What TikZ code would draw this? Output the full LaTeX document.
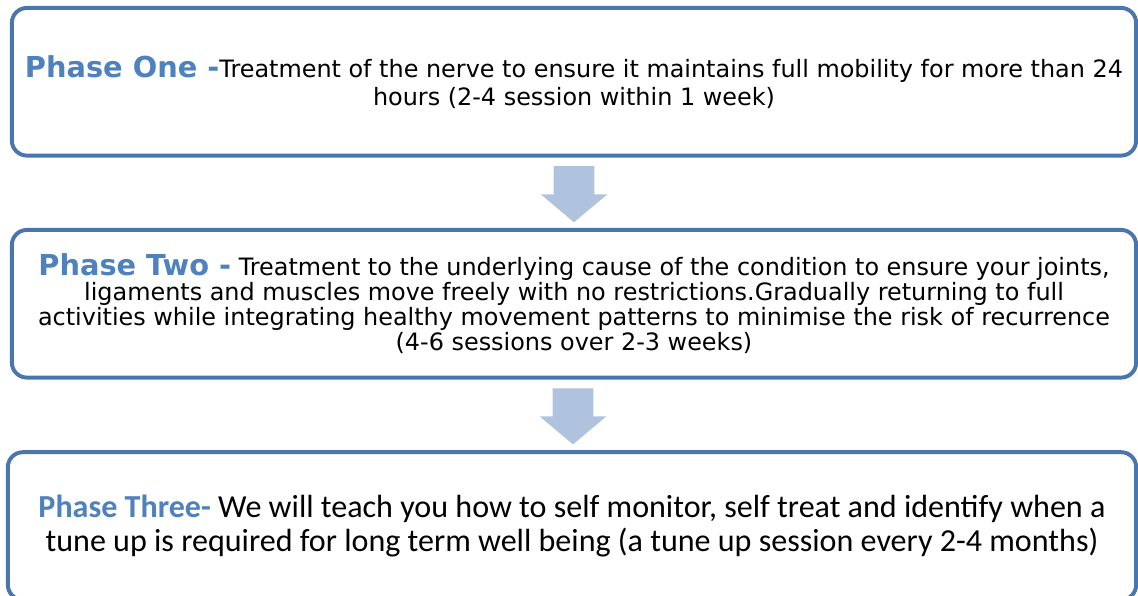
\documentclass[tikz,border=0pt]{standalone}
\usepackage{fontspec}
\setmainfont{DejaVu Sans}
\newfontfamily\calibrifont{Carlito}
\usepackage{xcolor}
\usepackage{tikz}
\usetikzlibrary{shapes.arrows, positioning, calc}
\definecolor{boxblue}{HTML}{4A76AD}
\definecolor{headblue}{HTML}{4F81BD}
\definecolor{arrowblue}{HTML}{B0C3DE}
\tikzstyle{phase} = [rectangle, rounded corners=0.375cm, line width=2.8pt, draw=boxblue, fill=white, minimum width=28.1cm, minimum height=3.69cm, text centered, align=center, inner sep=0pt]
\tikzstyle{downarrow} = [single arrow, shape border rotate=270, fill=arrowblue, text width=1cm, minimum height=1.4cm, single arrow head extend=0.325cm, single arrow tip angle=100, inner sep=0pt, yshift=5pt]
\newcommand{\phasehead}[1]{{\fontsize{20.5}{20}\selectfont\bfseries\color{headblue}#1}}
\newcommand{\phaseheadc}[1]{{\bfseries\color{headblue}#1}}

\begin{document}
\begin{tikzpicture}[x=0.025cm, y=-0.025cm]
        \useasboundingbox (0,0) rectangle (1138,595);
        % Phases
        \node (one) [phase, font=\fontsize{17}{19.9}\selectfont] at (574,81.75) {\phasehead{Phase One -}Treatment of the nerve to ensure it maintains full mobility for more than 24\\hours (2-4 session within 1 week)};
        \node (two) [phase, font=\fontsize{17}{17.8}\selectfont] at (574,303.75) {\phasehead{Phase Two -} Treatment to the underlying cause of the condition to ensure your joints,\\ligaments and muscles move freely with no restrictions.Gradually returning to full\\activities while integrating healthy movement patterns to minimise the risk of recurrence\\(4-6 sessions over 2-3 weeks)};
        \node (three) [phase, minimum width=28.2cm, font=\calibrifont\fontsize{22.8}{23.5}\selectfont] at (572,526) {\phaseheadc{Phase Three-} We will teach you how to self monitor, self treat and identify when a\\tune up is required for long term well being (a tune up session every 2-4 months)};

        % Arrows
        \node (arrow1) [downarrow] at ($(one.south)!0.5!(two.north)$) {};
        \node (arrow2) [downarrow] at ($(two.south)!0.5!(three.north)$) {};
      \end{tikzpicture}
\end{document}
